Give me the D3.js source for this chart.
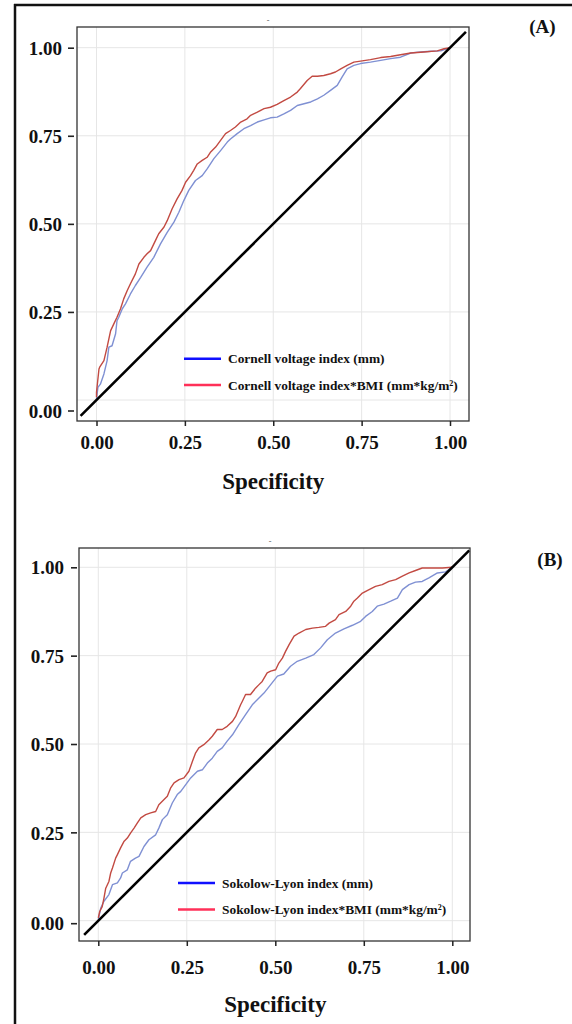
<!DOCTYPE html>
<html><head><meta charset="utf-8">
<script src="https://cdn.jsdelivr.net/npm/d3@7"></script>
<style>body{margin:0;background:#fff}svg{display:block}</style>
</head><body><svg id="c" width="572" height="1024"></svg>
<script>
// ---- data ----
const tickValues = [0, 0.25, 0.5, 0.75, 1];
const tickLabels = ["0.00", "0.25", "0.50", "0.75", "1.00"];
const xTitle = "Specificity";
const panelLabels = ["(A)", "(B)"];
const legendA = ["Cornell voltage index (mm)", "Cornell voltage index*BMI (mm*kg/m\u00B2)"];
const legendB = ["Sokolow-Lyon index (mm)", "Sokolow-Lyon index*BMI (mm*kg/m\u00B2)"];
const diagonalA = [-0.045, 1.045];
const diagonalB = [-0.04, 1.048];

const cornellX = [0,0.004,0.011,0.021,0.030,0.035,0.044,0.054,0.058,0.063,0.073,0.082,0.096,0.110,0.125,0.143,0.162,0.181,0.200,0.219,0.233,0.247,0.261,0.280,0.299,0.313,0.332,0.351,0.370,0.379,0.398,0.417,0.436,0.455,0.474,0.492,0.511,0.530,0.549,0.568,0.587,0.606,0.625,0.643,0.662,0.681,0.695,0.709,0.728,0.747,0.775,0.804,0.832,0.860,0.889,0.917,0.945,0.974,1];
const cornellY = [0.003,0.036,0.045,0.074,0.112,0.150,0.154,0.188,0.225,0.235,0.259,0.273,0.301,0.325,0.348,0.377,0.405,0.443,0.476,0.505,0.533,0.566,0.595,0.623,0.637,0.656,0.685,0.708,0.732,0.741,0.756,0.770,0.779,0.789,0.795,0.801,0.803,0.812,0.822,0.836,0.841,0.846,0.855,0.865,0.879,0.893,0.917,0.940,0.950,0.955,0.959,0.964,0.969,0.973,0.985,0.988,0.990,0.991,1];

const cornellBmiX = [0,0,0.007,0.009,0.021,0.030,0.040,0.049,0.058,0.068,0.077,0.087,0.096,0.110,0.120,0.134,0.143,0.153,0.167,0.176,0.191,0.200,0.214,0.228,0.242,0.252,0.266,0.275,0.285,0.299,0.313,0.323,0.337,0.351,0.365,0.379,0.393,0.408,0.426,0.436,0.455,0.474,0.492,0.511,0.530,0.549,0.568,0.577,0.596,0.610,0.625,0.643,0.662,0.676,0.691,0.709,0.728,0.747,0.775,0.804,0.832,0.860,0.889,0.926,0.964,0.983,1];
const cornellBmiY = [0.008,0.022,0.088,0.093,0.112,0.150,0.197,0.216,0.235,0.259,0.287,0.311,0.330,0.358,0.386,0.405,0.415,0.424,0.453,0.472,0.491,0.509,0.543,0.571,0.595,0.618,0.637,0.652,0.670,0.680,0.689,0.704,0.718,0.737,0.756,0.765,0.775,0.789,0.798,0.808,0.817,0.827,0.831,0.839,0.850,0.860,0.874,0.884,0.907,0.919,0.919,0.921,0.926,0.931,0.940,0.950,0.959,0.962,0.966,0.972,0.975,0.980,0.985,0.988,0.991,0.997,1];

const sokolowX = [0,0.007,0.016,0.030,0.040,0.054,0.063,0.068,0.082,0.091,0.105,0.115,0.129,0.143,0.162,0.171,0.181,0.195,0.209,0.223,0.233,0.247,0.261,0.280,0.294,0.308,0.322,0.336,0.350,0.364,0.379,0.397,0.416,0.435,0.449,0.468,0.487,0.506,0.524,0.543,0.562,0.586,0.609,0.628,0.647,0.670,0.694,0.718,0.741,0.755,0.774,0.788,0.807,0.826,0.845,0.859,0.878,0.896,0.915,0.934,0.958,0.981,1];
const sokolowY = [0.003,0.036,0.055,0.074,0.102,0.107,0.121,0.135,0.144,0.168,0.177,0.182,0.210,0.229,0.243,0.262,0.286,0.300,0.333,0.357,0.366,0.385,0.404,0.423,0.427,0.446,0.460,0.479,0.489,0.508,0.526,0.555,0.583,0.611,0.625,0.644,0.668,0.692,0.698,0.720,0.734,0.743,0.753,0.772,0.795,0.814,0.826,0.836,0.847,0.861,0.875,0.890,0.896,0.904,0.913,0.937,0.951,0.958,0.960,0.970,0.984,0.987,1];

const sokolowBmiX = [0,0.004,0.011,0.016,0.021,0.030,0.035,0.040,0.049,0.054,0.063,0.073,0.082,0.091,0.101,0.110,0.120,0.134,0.148,0.162,0.171,0.185,0.195,0.204,0.214,0.228,0.242,0.256,0.266,0.275,0.284,0.298,0.313,0.322,0.336,0.350,0.364,0.379,0.388,0.402,0.407,0.416,0.430,0.444,0.454,0.463,0.477,0.487,0.501,0.510,0.520,0.529,0.539,0.553,0.567,0.586,0.605,0.623,0.642,0.652,0.670,0.680,0.699,0.713,0.722,0.732,0.746,0.765,0.783,0.802,0.821,0.840,0.859,0.878,0.896,0.915,0.944,0.972,1];
const sokolowBmiY = [0.008,0.026,0.040,0.064,0.092,0.111,0.135,0.149,0.177,0.187,0.206,0.225,0.234,0.248,0.262,0.276,0.291,0.300,0.305,0.309,0.328,0.342,0.352,0.375,0.390,0.399,0.404,0.423,0.451,0.475,0.489,0.498,0.512,0.522,0.541,0.541,0.550,0.564,0.578,0.611,0.621,0.640,0.640,0.658,0.668,0.677,0.701,0.706,0.710,0.729,0.743,0.762,0.781,0.805,0.814,0.824,0.828,0.830,0.833,0.842,0.852,0.866,0.875,0.890,0.904,0.913,0.927,0.937,0.946,0.951,0.960,0.965,0.975,0.984,0.991,0.998,0.998,0.998,1];

// ---- layout ----
const FONT = "'Liberation Serif','Times New Roman',serif";
const BLUE_CURVE = "#7f90d3", RED_CURVE = "#c24a42";
const BLUE_LEG = "#1010ff", RED_LEG = "#ff3058";

const panels = [
  {label: panelLabels[0], legend: legendA, diag: diagonalA,
   series: [[cornellX, cornellY, BLUE_CURVE], [cornellBmiX, cornellBmiY, RED_CURVE]],
   xr: [96.5, 450], yr: [400, 47.7], box: [77, 27, 469, 421],
   yAxisX: 74, yPad: 6, xLabY: 442, titleY: 481, zeroShift: 11,
   legX: 184, legY: [358.7, 385], labelPos: [542.5, 33], dashPos: [268, 20]},
  {label: panelLabels[1], legend: legendB, diag: diagonalB,
   series: [[sokolowX, sokolowY, BLUE_CURVE], [sokolowBmiX, sokolowBmiY, RED_CURVE]],
   xr: [98.3, 452.3], yr: [920.7, 567.3], box: [79, 548, 470, 941],
   yAxisX: 77, yPad: 7, xLabY: 967, titleY: 1004, zeroShift: 3,
   legX: 178, legY: [883, 909.5], labelPos: [550, 566], dashPos: [270, 541]}
];

const svg = d3.select("#c");
svg.append("rect").attr("width", 572).attr("height", 1024).attr("fill", "#fff");

// outer frame lines
svg.append("line").attr("x1", 14).attr("x2", 572).attr("y1", 5).attr("y2", 5)
  .attr("stroke", "#111").attr("stroke-width", 2.5);
svg.append("line").attr("x1", 15).attr("x2", 15).attr("y1", 4).attr("y2", 1024)
  .attr("stroke", "#111").attr("stroke-width", 2.5);

panels.forEach(p => {
  const xs = d3.scaleLinear().domain([0, 1]).range(p.xr);
  const ys = d3.scaleLinear().domain([0, 1]).range(p.yr);
  const [bx0, by0, bx1, by1] = p.box;
  const g = svg.append("g");

  // grid
  g.selectAll(".vg").data(tickValues).join("line")
    .attr("x1", d => xs(d)).attr("x2", d => xs(d)).attr("y1", by0).attr("y2", by1)
    .attr("stroke", "#e6e6e6").attr("stroke-width", 1);
  g.selectAll(".hg").data(tickValues).join("line")
    .attr("y1", d => ys(d)).attr("y2", d => ys(d)).attr("x1", bx0).attr("x2", bx1)
    .attr("stroke", "#e6e6e6").attr("stroke-width", 1);

  // curves
  p.series.forEach(([X, Y, col]) => {
    const pts = X.map((x, i) => [x, Y[i]]);
    g.append("path").datum(pts)
      .attr("d", d3.line().x(d => xs(d[0])).y(d => ys(d[1])))
      .attr("fill", "none").attr("stroke", col).attr("stroke-width", 1.4)
      .attr("stroke-linejoin", "round");
  });

  // diagonal
  g.append("line")
    .attr("x1", xs(p.diag[0])).attr("y1", ys(p.diag[0]))
    .attr("x2", xs(p.diag[1])).attr("y2", ys(p.diag[1]))
    .attr("stroke", "#000").attr("stroke-width", 2.6);

  // box
  g.append("rect").attr("x", bx0).attr("y", by0).attr("width", bx1 - bx0).attr("height", by1 - by0)
    .attr("fill", "none").attr("stroke", "#333").attr("stroke-width", 1.3);

  // x axis
  const xa = g.append("g").attr("transform", `translate(0,${by1})`)
    .call(d3.axisBottom(xs).tickValues(tickValues).tickFormat((d, i) => tickLabels[i]).tickSize(5).tickPadding(0));
  xa.select(".domain").remove();
  xa.selectAll("line").attr("stroke", "#222").attr("stroke-width", 1.5);
  xa.selectAll("text").attr("y", p.xLabY - by1).attr("dy", "0.35em")
    .style("font-family", FONT).style("font-weight", "bold").style("font-size", "19px").attr("fill", "#111");

  // y axis
  const ya = g.append("g").attr("transform", `translate(${p.yAxisX},0)`)
    .call(d3.axisLeft(ys).tickValues(tickValues).tickFormat((d, i) => tickLabels[i]).tickSize(6).tickPadding(p.yPad));
  ya.select(".domain").remove();
  ya.selectAll("line").attr("stroke", "#222").attr("stroke-width", 1.6);
  ya.selectAll("text").attr("dy", "0.35em")
    .style("font-family", FONT).style("font-weight", "bold").style("font-size", "19px").attr("fill", "#111");
  ya.selectAll(".tick").filter(d => d === 0)
    .attr("transform", `translate(0,${ys(0) + p.zeroShift})`);

  // x title
  g.append("text").attr("x", (xs(0) + xs(1)) / 2).attr("y", p.titleY).attr("dy", "0.35em")
    .attr("text-anchor", "middle").style("font-family", FONT).style("font-weight", "bold")
    .style("font-size", "23px").attr("fill", "#111").text(xTitle);

  // panel label
  g.append("text").attr("x", p.labelPos[0]).attr("y", p.labelPos[1]).attr("text-anchor", "middle")
    .style("font-family", FONT).style("font-weight", "bold").style("font-size", "19px")
    .attr("fill", "#111").text(p.label);

  // tiny title mark
  g.append("text").attr("x", p.dashPos[0]).attr("y", p.dashPos[1]).attr("dy", "0.35em")
    .attr("text-anchor", "middle").style("font-family", FONT).style("font-size", "8px")
    .attr("fill", "#555").text("-");

  // legend
  const legCols = [BLUE_LEG, RED_LEG];
  p.legend.forEach((t, i) => {
    g.append("line").attr("x1", p.legX).attr("x2", p.legX + 37)
      .attr("y1", p.legY[i]).attr("y2", p.legY[i])
      .attr("stroke", legCols[i]).attr("stroke-width", 2.6);
    g.append("text").attr("x", p.legX + 44).attr("y", p.legY[i]).attr("dy", "0.35em")
      .style("font-family", FONT).style("font-weight", "bold").style("font-size", "13.4px")
      .attr("fill", "#111").text(t);
  });
});
</script></body></html>
